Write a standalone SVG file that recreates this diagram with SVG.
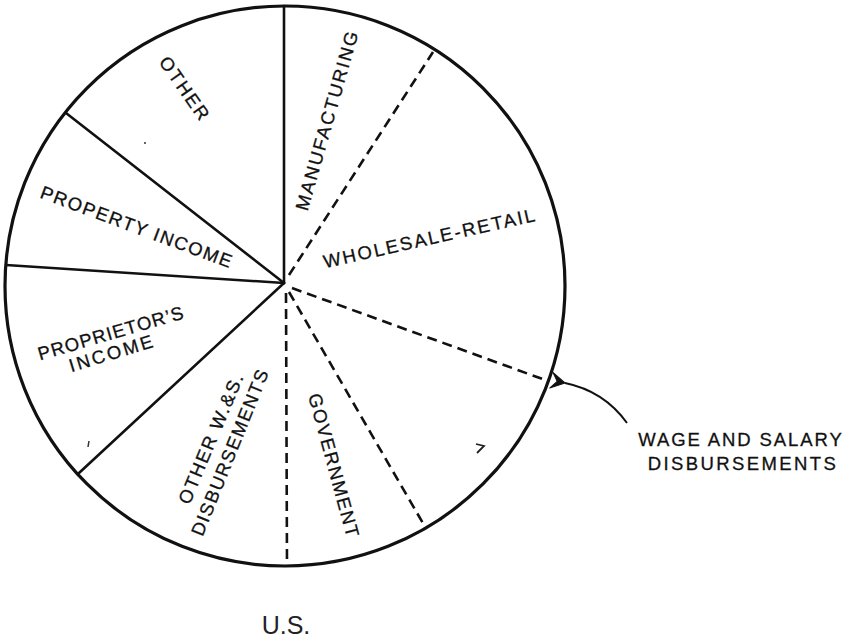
<svg xmlns="http://www.w3.org/2000/svg" width="844" height="640" viewBox="0 0 844 640">
  <defs>
    <style>
      .lbl { font-family: "Liberation Sans", Arial, sans-serif; font-size: 18.5px; fill: #111; stroke: #111; stroke-width: 0.3; text-anchor: middle; }
      .solid { stroke: #111; stroke-width: 2.6; fill: none; stroke-linecap: round; }
      .dash { stroke: #111; stroke-width: 2.6; fill: none; stroke-dasharray: 10 6; }
    </style>
    <marker id="barb" viewBox="0 0 18 18" refX="2" refY="9" markerWidth="18" markerHeight="18" markerUnits="userSpaceOnUse" orient="auto-start-reverse">
      <path d="M16,1 L2,9 L16,17 L10,9 Z" fill="#111" stroke="#111" stroke-width="1" stroke-linejoin="round"/>
    </marker>
  </defs>
  <rect width="844" height="640" fill="#fff"/>

  <g id="pie">
    <circle cx="285" cy="286" r="280" fill="none" stroke="#111" stroke-width="3.2"/>
  </g>

  <g id="connectors">
    <line class="solid" x1="284" y1="283" x2="284" y2="6"/>
    <line class="solid" x1="284" y1="283" x2="66" y2="113"/>
    <line class="solid" x1="284" y1="283" x2="6" y2="265"/>
    <line class="solid" x1="284" y1="283" x2="79" y2="473"/>
    <line class="dash" x1="289" y1="275" x2="433" y2="52"/>
    <line class="dash" x1="292" y1="288" x2="548" y2="381"/>
    <line class="dash" x1="289" y1="292" x2="424" y2="525"/>
    <line class="dash" x1="286" y1="293" x2="287" y2="566"/>
    <path id="arrow" d="M627,423 Q604,391 565,383" fill="none" stroke="#111" stroke-width="2" marker-end="url(#barb)"/>
  </g>

  <g id="seg-other">
    <text class="lbl" letter-spacing="2" transform="translate(185,89) rotate(55)" y="6.5">OTHER</text>
  </g>
  <g id="seg-manufacturing">
    <text class="lbl" letter-spacing="2" transform="translate(327,120) rotate(-74)" y="6.5">MANUFACTURING</text>
  </g>
  <g id="seg-property">
    <text class="lbl" letter-spacing="1.6" transform="translate(137,227) rotate(20.4)" y="6.5">PROPERTY INCOME</text>
  </g>
  <g id="seg-wholesale">
    <text class="lbl" letter-spacing="2.1" transform="translate(430,238) rotate(-12.6)" y="6.5">WHOLESALE-RETAIL</text>
  </g>
  <g id="seg-proprietor">
    <text class="lbl" letter-spacing="1.1" transform="translate(111,333) rotate(-16.3)" y="6.5">PROPRIETOR’S</text>
    <text class="lbl" letter-spacing="2.5" transform="translate(112,353) rotate(-17)" y="6.5">INCOME</text>
  </g>
  <g id="seg-otherws">
    <text class="lbl" letter-spacing="1.8" transform="translate(211,438) rotate(-67)" y="6.5">OTHER W.&amp;S.</text>
    <text class="lbl" letter-spacing="1.5" transform="translate(230,452) rotate(-68)" y="6.5">DISBURSEMENTS</text>
  </g>
  <g id="seg-government">
    <text class="lbl" letter-spacing="1.7" transform="translate(334,466) rotate(74.7)" y="6.5">GOVERNMENT</text>
  </g>
  <g id="wage-label">
    <text class="lbl" letter-spacing="1.9" x="741" y="446">WAGE AND SALARY</text>
    <text class="lbl" letter-spacing="2.4" x="743" y="470">DISBURSEMENTS</text>
  </g>
  <g id="title">
    <text x="286" y="634" text-anchor="middle" font-family="'Liberation Sans Narrow', 'Liberation Sans', sans-serif" font-size="25" fill="#222">U.S.</text>
  </g>
  <g id="marks">
    <path d="M476,444 L484,446 L477,453" fill="none" stroke="#222" stroke-width="1.8"/>
    <circle cx="145" cy="143" r="1" fill="#333"/>
    <path d="M89,441 L88,447" stroke="#333" stroke-width="1.5"/>
  </g>
</svg>
